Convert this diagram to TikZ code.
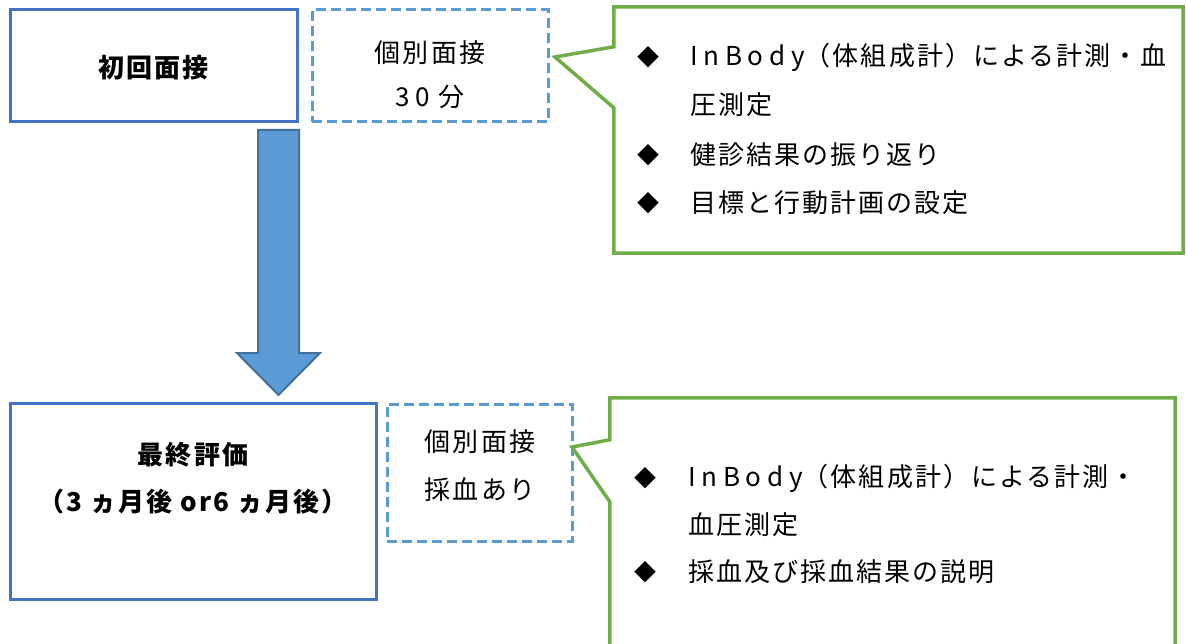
\documentclass[tikz,border=0pt]{standalone}
\usepackage{fontspec}
\setmainfont{Noto Sans CJK JP}[LetterSpace=8]
\usetikzlibrary{calc}
\definecolor{boxblue}{HTML}{4472C4}
\definecolor{dashblue}{HTML}{5B9BD5}
\definecolor{arrowfill}{HTML}{5B9BD5}
\definecolor{arrowline}{HTML}{41719C}
\definecolor{callgreen}{HTML}{70AD47}
\newcommand{\wide}[1]{{\addfontfeature{LetterSpace=22}#1}}
\tikzset{
  mainbox/.style={draw=boxblue, line width=3pt, rectangle, inner sep=0pt},
  dashbox/.style={draw=dashblue, line width=3pt, rectangle, inner sep=0pt, dash pattern=on 10pt off 5pt},
  callout/.style={draw=callgreen, fill=white, line width=3.5pt, line join=miter},
  bigarrow/.style={draw=arrowline, fill=arrowfill, line width=2pt, line join=miter},
  txt/.style={inner sep=0pt, font=\fontsize{26}{30}\selectfont},
  btxt/.style={inner sep=0pt, font=\fontsize{26}{30}\selectfont\bfseries},
  bullet/.style={inner sep=0pt, anchor=center, font=\fontsize{22}{26}\selectfont},
  item/.style={inner sep=0pt, anchor=west, font=\fontsize{26}{30}\selectfont}
}
\begin{document}
\begin{tikzpicture}[x=1pt, y=-1pt]
\useasboundingbox (0,0) rectangle (1186,644);

% top row
\node[mainbox, minimum width=287pt, minimum height=112pt] (b1) at (153.5,66) {};
\node[btxt] (t1) at (153.5,68) {初回面接};
\node[dashbox, minimum width=236pt, minimum height=112pt] (d1) at (430,66) {};
\node[txt] (d1a) at (430,53) {個別面接};
\node[txt] (d1b) at (430,97) {\wide{30} 分};

% callout 1
\node[inner sep=0pt, minimum width=569pt, minimum height=246pt] (c1) at (898.5,130) {};
\coordinate (p1) at (555,57);
\draw[callout] (c1.north west) -- (c1.north east) -- (c1.south east) -- (c1.south west)
  -- ($(c1.north west)+(0,101)$) -- (p1) -- ($(c1.north west)+(0,40)$) -- cycle;
\node[bullet] (k1) at (648,57) {◆};
\node[item] (i1) at (690,57) {\wide{InBody}（体組成計）による計測・血};
\node[item] (i1b) at (690,105) {圧測定};
\node[bullet] (k2) at (648,155) {◆};
\node[item] (i2) at (690,155) {健診結果の振り返り};
\node[bullet] (k3) at (648,203) {◆};
\node[item] (i3) at (690,203) {目標と行動計画の設定};

% bottom row
\node[mainbox, minimum width=366pt, minimum height=196pt] (b2) at (193,501) {};
\node[btxt] (t2a) at (193,455) {最終評価};
\node[btxt] (t2b) at (193,502) {（3 ヵ月後 or6 ヵ月後）};
\node[dashbox, minimum width=185pt, minimum height=137pt] (d2) at (479.5,472.5) {};
\node[txt] (d2a) at (480,442) {個別面接};
\node[txt] (d2b) at (480,490) {採血あり};

% callout 2
\node[inner sep=0pt, minimum width=565pt, minimum height=260pt] (c2) at (892.5,528) {};
\coordinate (p2) at (572,447);
\draw[callout] (c2.north west) -- (c2.north east) -- (c2.south east) -- (c2.south west)
  -- ($(c2.north west)+(0,104)$) -- (p2) -- ($(c2.north west)+(0,42)$) -- cycle;
\node[bullet] (m1) at (645,478) {◆};
\node[item] (j1) at (688,478) {\wide{InBody}（体組成計）による計測・};
\node[item] (j1b) at (688,525) {血圧測定};
\node[bullet] (m2) at (645,572) {◆};
\node[item] (j2) at (688,572) {採血及び採血結果の説明};

% big arrow
\draw[bigarrow] (258,130) -- (299,130) -- (299,353) -- (320,353) -- (278.5,395)
  -- (237,353) -- (258,353) -- cycle;
\end{tikzpicture}
\end{document}
